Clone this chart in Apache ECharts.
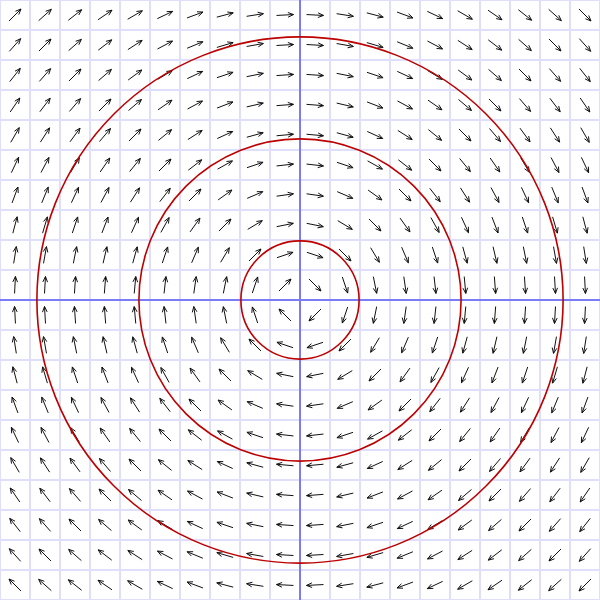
<!DOCTYPE html>
<html>
<head>
<meta charset="utf-8">
<script src="https://cdn.jsdelivr.net/npm/echarts@6/dist/echarts.min.js"></script>
<style>html,body{margin:0;padding:0;background:#fff}#c{width:600px;height:600px}</style>
</head>
<body>
<div id="c"></div>
<script>
// Cell-centre positions of the arrows (math coordinates)
var xCenters = [-9.5,-8.5,-7.5,-6.5,-5.5,-4.5,-3.5,-2.5,-1.5,-0.5,0.5,1.5,2.5,3.5,4.5,5.5,6.5,7.5,8.5,9.5];
var yCenters = [-9.5,-8.5,-7.5,-6.5,-5.5,-4.5,-3.5,-2.5,-1.5,-0.5,0.5,1.5,2.5,3.5,4.5,5.5,6.5,7.5,8.5,9.5];
// Radii of the red circular trajectories
var circleRadii = [1.97, 5.37, 8.77];
// Axis range
var axisMin = -10, axisMax = 10, axisStep = 1;

// vector field: clockwise rotation (u, v) = (y, -x)
var arrowData = [];
xCenters.forEach(function (x) {
  yCenters.forEach(function (y) {
    arrowData.push([x, y, y, -x]);
  });
});
var circleData = circleRadii.map(function (r) { return [0, 0, r]; });

var chart = echarts.init(document.getElementById('c'), null, {renderer: 'canvas'});
var gridLine = {show: true, lineStyle: {color: '#dfdffc', width: 2}};
var axisLine = {show: true, onZero: true, lineStyle: {color: '#7b7bf6', width: 2}};
chart.setOption({
  animation: false,
  backgroundColor: '#fff',
  grid: {left: 0, right: 0, top: 0, bottom: 0},
  xAxis: {type: 'value', min: axisMin, max: axisMax, interval: axisStep,
    splitLine: gridLine, axisLine: axisLine, axisTick: {show: false}, axisLabel: {show: false}},
  yAxis: {type: 'value', min: axisMin, max: axisMax, interval: axisStep,
    splitLine: gridLine, axisLine: axisLine, axisTick: {show: false}, axisLabel: {show: false}},
  series: [
    {
      type: 'custom',
      coordinateSystem: 'cartesian2d',
      data: arrowData,
      z: 3,
      renderItem: function (params, api) {
        var p = api.coord([api.value(0), api.value(1)]);
        var u = api.value(2), v = api.value(3);
        var sx = u, sy = -v;
        var n = Math.sqrt(sx * sx + sy * sy) || 1;
        sx /= n; sy /= n;
        var L = 17, H = 6, ang = 0.4;
        var x1 = p[0] - sx * L / 2, y1 = p[1] - sy * L / 2;
        var x2 = p[0] + sx * L / 2, y2 = p[1] + sy * L / 2;
        var c = Math.cos(ang), s = Math.sin(ang);
        var bx = -sx, by = -sy;
        var h1x = x2 + H * (bx * c - by * s), h1y = y2 + H * (bx * s + by * c);
        var h2x = x2 + H * (bx * c + by * s), h2y = y2 + H * (-bx * s + by * c);
        var st = {stroke: '#111', lineWidth: 1, fill: null};
        return {
          type: 'group',
          children: [
            {type: 'line', shape: {x1: x1, y1: y1, x2: x2, y2: y2}, style: st},
            {type: 'polyline', shape: {points: [[h1x, h1y], [x2, y2], [h2x, h2y]]}, style: st}
          ]
        };
      }
    },
    {
      type: 'custom',
      coordinateSystem: 'cartesian2d',
      data: circleData,
      z: 4,
      renderItem: function (params, api) {
        var c = api.coord([api.value(0), api.value(1)]);
        var r = api.size([api.value(2), 0])[0];
        return {type: 'circle', shape: {cx: c[0], cy: c[1], r: r},
          style: {stroke: '#bd0000', lineWidth: 1.6, fill: null}};
      }
    }
  ]
});
</script>
</body>
</html>
